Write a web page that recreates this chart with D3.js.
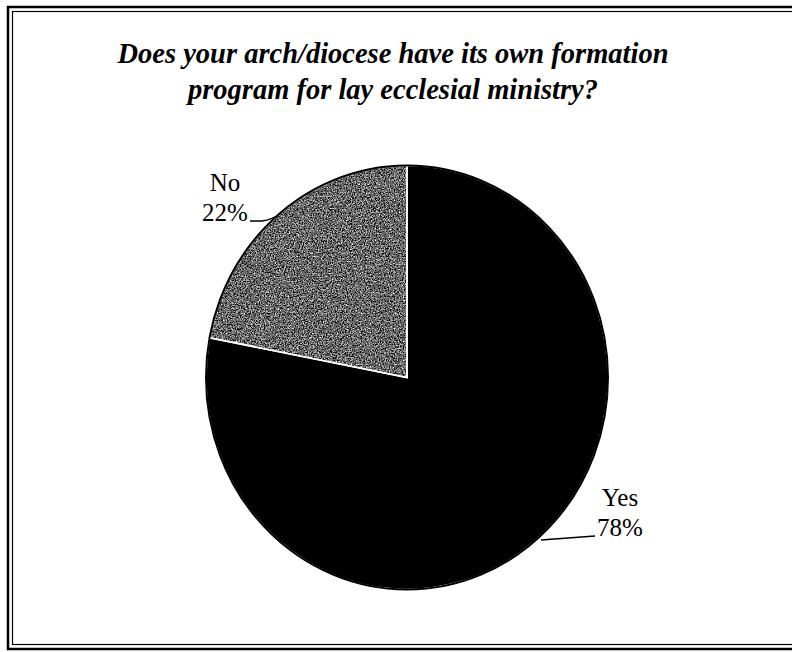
<!DOCTYPE html>
<html>
<head>
<meta charset="utf-8">
<script src="https://cdn.jsdelivr.net/npm/d3@7"></script>
<style>
  html, body { margin: 0; padding: 0; background: #fff; overflow: hidden; }
  svg { display: block; }
</style>
</head>
<body>
<script>
// Survey answers
const categories = ["Yes", "No"];
const values = [78, 22];
const labels = ["78%", "22%"];
const titleLines = [
  "Does your arch/diocese have its own formation",
  "program for lay ecclesial ministry?"
];

const W = 792, H = 652;
const svg = d3.select("body").append("svg").attr("width", W).attr("height", H);
const defs = svg.append("defs");

// builds a speckled fill filter: noise -> gray levels, clipped to the shape
function grainFilter(id, freq, seed, table) {
  const f = defs.append("filter").attr("id", id)
    .attr("x", 0).attr("y", 0).attr("width", "100%").attr("height", "100%")
    .attr("color-interpolation-filters", "sRGB");
  f.append("feTurbulence").attr("type", "fractalNoise").attr("baseFrequency", freq)
    .attr("numOctaves", 2).attr("seed", seed).attr("result", "n");
  f.append("feColorMatrix").attr("in", "n").attr("type", "saturate").attr("values", 0).attr("result", "g");
  const ct = f.append("feComponentTransfer").attr("in", "g").attr("result", "t");
  ["feFuncR", "feFuncG", "feFuncB"].forEach(fn =>
    ct.append(fn).attr("type", "discrete").attr("tableValues", table));
  ct.append("feFuncA").attr("type", "linear").attr("slope", 0).attr("intercept", 1);
  f.append("feComposite").attr("in", "t").attr("in2", "SourceGraphic").attr("operator", "in");
}
grainFilter("grainNo", 0.75, 4, "0 0 0.1 0.4 0.7 1 1");
grainFilter("grainYes", 1.2, 9, new Array(11).fill(0).concat([0.85]).join(" "));
const fills = { Yes: "grainYes", No: "grainNo" };

// double frame around the chart (right side runs past the edge)
svg.append("rect").attr("x", 8).attr("y", 7).attr("width", 1000).attr("height", 642)
  .attr("fill", "none").attr("stroke", "#000").attr("stroke-width", 2.5);
svg.append("rect").attr("x", 12.5).attr("y", 11.5).attr("width", 1000).attr("height", 633)
  .attr("fill", "none").attr("stroke", "#000").attr("stroke-width", 1.2);

// title
svg.append("text")
  .attr("text-anchor", "middle")
  .attr("font-family", "'Liberation Serif', 'Times New Roman', serif")
  .attr("font-size", 28.5).attr("font-weight", "bold").attr("font-style", "italic")
  .selectAll("tspan").data(titleLines).join("tspan")
  .attr("x", 393).attr("y", (d, i) => 63 + i * 36).text(d => d);

// pie (slightly taller than wide)
const cx = 407, cy = 377.5, ry = 212, rx = 201;
const pie = d3.pie().sort(null).value(d => d);
const arcs = pie(values);
const arc = d3.arc().innerRadius(0).outerRadius(ry);

const g = svg.append("g").attr("transform", `translate(${cx},${cy}) scale(${rx / ry},1)`);
g.selectAll("path.slice").data(arcs).join("path")
  .attr("class", "slice")
  .attr("d", arc)
  .attr("fill", "#000")
  .attr("filter", (d, i) => `url(#${fills[categories[i]]})`);
g.selectAll("path.edge").data(arcs).join("path")
  .attr("class", "edge")
  .attr("d", arc)
  .attr("fill", "none")
  .attr("stroke", "#fff").attr("stroke-width", 1.6)
  .attr("vector-effect", "non-scaling-stroke");
g.append("ellipse").attr("rx", ry).attr("ry", ry)
  .attr("fill", "none").attr("stroke", "#000").attr("stroke-width", 2)
  .attr("vector-effect", "non-scaling-stroke");

// labels with leader lines
const labelFont = "'Liberation Serif', 'Times New Roman', serif";
const labelPos = {
  No: { x: 225, y: 191, path: "M250,221 L262,221 Q272,220 281,213" },
  Yes: { x: 620, y: 506, path: "M541,540 L595,536" }
};
categories.forEach((c, i) => {
  const p = labelPos[c];
  const t = svg.append("text").attr("text-anchor", "middle")
    .attr("font-family", labelFont).attr("font-size", 25).attr("fill", "#000");
  t.append("tspan").attr("x", p.x).attr("y", p.y).text(c);
  t.append("tspan").attr("x", p.x).attr("y", p.y + 30).text(labels[i]);
  svg.append("path").attr("d", p.path).attr("fill", "none")
    .attr("stroke", "#000").attr("stroke-width", 1.5);
});
</script>
</body>
</html>
